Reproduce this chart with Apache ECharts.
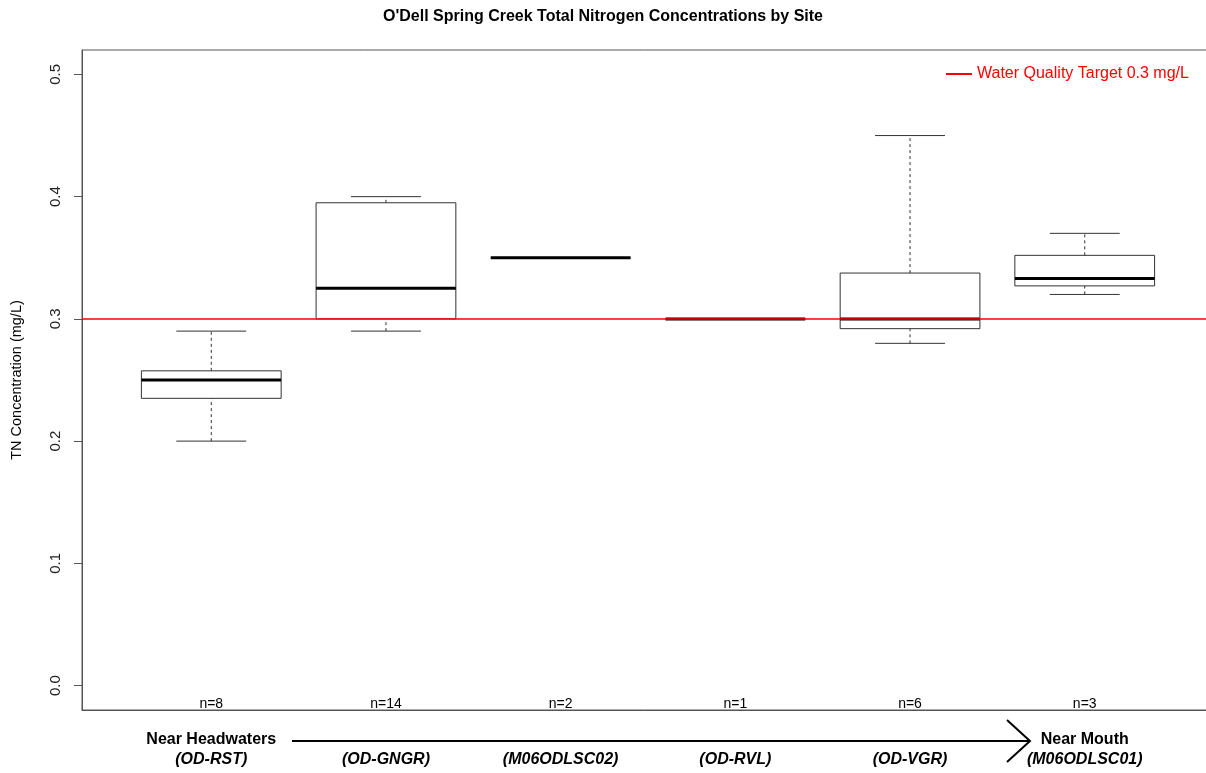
<!DOCTYPE html>
<html>
<head>
<meta charset="utf-8">
<script src="https://cdn.jsdelivr.net/npm/echarts@6/dist/echarts.min.js"></script>
<style>
html,body{margin:0;padding:0;background:#fff;}
#chart{width:1206px;height:773px;}
</style>
</head>
<body>
<div id="chart"></div>
<script>
// ---- data ----
const sites = ['(OD-RST)', '(OD-GNGR)', '(M06ODLSC02)', '(OD-RVL)', '(OD-VGR)', '(M06ODLSC01)'];
const reachLabels = ['Near Headwaters', '', '', '', '', 'Near Mouth'];
const counts = [8, 14, 2, 1, 6, 3];
const lowWhisker = [0.20, 0.29, 0.35, 0.30, 0.28, 0.32];
const q1 = [0.235, 0.30, 0.35, 0.30, 0.292, 0.327];
const median = [0.25, 0.325, 0.35, 0.30, 0.30, 0.333];
const q3 = [0.2575, 0.395, 0.35, 0.30, 0.3375, 0.352];
const highWhisker = [0.29, 0.40, 0.35, 0.30, 0.45, 0.37];
const target = 0.3;
const targetLabel = 'Water Quality Target 0.3 mg/L';
const yTicks = [0, 0.1, 0.2, 0.3, 0.4, 0.5];
const xPositions = [1, 2, 3, 4, 5, 6];

const yMin = -0.02, yMax = 0.52;
const xMin = 0.26, xMax = 6.74;

const boxData = xPositions.map((x, i) => [x, lowWhisker[i], q1[i], median[i], q3[i], highWhisker[i], counts[i]]);

const lineColor = '#333';
const font = '"Liberation Sans", Arial, sans-serif';

function renderItem(params, api) {
  const x = api.value(0);
  const lo = api.value(1), a = api.value(2), m = api.value(3), b = api.value(4), hi = api.value(5), n = api.value(6);
  const unit = api.size([1, 0])[0];
  const halfBox = unit * 0.4;
  const halfCap = unit * 0.2;
  const pc = api.coord([x, 0])[0];
  const py = v => api.coord([x, v])[1];
  const children = [];
  children.push({type: 'line', shape: {x1: pc, y1: py(b), x2: pc, y2: py(hi)},
    style: {stroke: lineColor, lineWidth: 1, lineDash: [3, 3]}});
  children.push({type: 'line', shape: {x1: pc, y1: py(lo), x2: pc, y2: py(a)},
    style: {stroke: lineColor, lineWidth: 1, lineDash: [3, 3]}});
  children.push({type: 'line', shape: {x1: pc - halfCap, y1: py(hi), x2: pc + halfCap, y2: py(hi)},
    style: {stroke: lineColor, lineWidth: 1}});
  children.push({type: 'line', shape: {x1: pc - halfCap, y1: py(lo), x2: pc + halfCap, y2: py(lo)},
    style: {stroke: lineColor, lineWidth: 1}});
  children.push({type: 'rect', shape: {x: pc - halfBox, y: py(b), width: halfBox * 2, height: py(a) - py(b)},
    style: {stroke: lineColor, lineWidth: 1, fill: null}});
  children.push({type: 'line', shape: {x1: pc - halfBox, y1: py(m), x2: pc + halfBox, y2: py(m)},
    style: {stroke: '#000', lineWidth: 3}});
  children.push({type: 'text', x: pc, y: py(yMin) + 1,
    style: {text: 'n=' + n, fill: '#000', font: '14px ' + font, textAlign: 'center', textVerticalAlign: 'bottom'}});
  return {type: 'group', children: children};
}

const chart = echarts.init(document.getElementById('chart'), null, {renderer: 'canvas'});
chart.setOption({
  backgroundColor: '#fff',
  animation: false,
  title: {
    text: "O'Dell Spring Creek Total Nitrogen Concentrations by Site",
    left: 'center', top: 4,
    textStyle: {fontFamily: font, fontSize: 16, fontWeight: 'bold', color: '#000'}
  },
  legend: {
    data: [targetLabel],
    left: 941, top: 61,
    icon: 'rect', itemWidth: 26, itemHeight: 2, itemGap: 4,
    textStyle: {color: '#f00', fontFamily: font, fontSize: 16}
  },
  grid: {left: 82, top: 50, width: 1132, height: 660, outerBoundsMode: 'none',
    show: true, borderColor: '#555', borderWidth: 1, containLabel: false},
  xAxis: {
    type: 'value', min: xMin, max: xMax,
    splitLine: {show: false},
    axisLine: {show: true, onZero: false, lineStyle: {color: '#555'}},
    axisTick: {show: false},
    axisLabel: {
      customValues: xPositions,
      margin: 20,
      formatter: function (v) {
        const i = xPositions.indexOf(v);
        if (i < 0) return '';
        const top = reachLabels[i] ? '{a|' + reachLabels[i] + '}' : '{a| }';
        return top + '\n{b|' + sites[i] + '}';
      },
      rich: {
        a: {fontFamily: font, fontSize: 16, fontWeight: 'bold', color: '#000', lineHeight: 20, align: 'center'},
        b: {fontFamily: font, fontSize: 16, fontWeight: 'bold', fontStyle: 'italic', color: '#000', lineHeight: 20, align: 'center'}
      }
    }
  },
  yAxis: {
    type: 'value', min: yMin, max: yMax,
    name: 'TN Concentration (mg/L)', nameLocation: 'middle', nameGap: 58,
    nameTextStyle: {fontFamily: font, fontSize: 14.5, color: '#000'},
    splitLine: {show: false},
    axisLine: {show: true, lineStyle: {color: '#555'}},
    axisTick: {show: true, customValues: yTicks, length: 8, lineStyle: {color: '#555'}},
    axisLabel: {
      customValues: yTicks, rotate: 90, margin: 19,
      formatter: v => v.toFixed(1),
      fontFamily: font, fontSize: 15, color: '#222'
    }
  },
  graphic: [
    {type: 'polyline', shape: {points: [[292, 741], [1029, 741]]}, style: {stroke: '#000', lineWidth: 2, fill: null}},
    {type: 'polyline', shape: {points: [[1007, 720], [1030, 741], [1007, 762]]}, style: {stroke: '#000', lineWidth: 2, fill: null}}
  ],
  series: [
    {
      type: 'custom', name: 'boxes', renderItem: renderItem,
      encode: {x: 0, y: [1, 2, 3, 4, 5]},
      data: boxData, clip: false, z: 2
    },
    {
      type: 'line', name: targetLabel, data: [], symbol: 'none',
      itemStyle: {color: '#f00'}, lineStyle: {color: '#f00', width: 1.5},
      markLine: {
        silent: true, symbol: 'none', label: {show: false},
        lineStyle: {color: '#f00', width: 1.5, type: 'solid'},
        data: [{yAxis: target}]
      },
      z: 3
    }
  ]
});
</script>
</body>
</html>
